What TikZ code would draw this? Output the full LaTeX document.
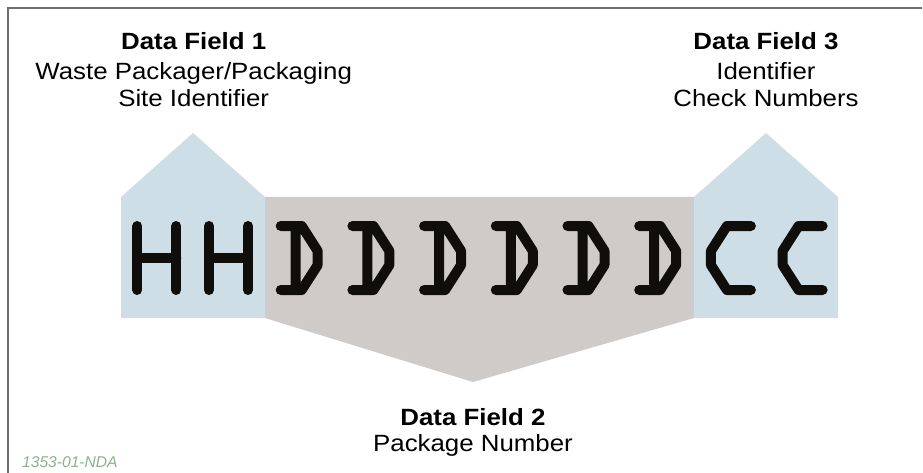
\documentclass[tikz,border=0pt]{standalone}
\usepackage{fontspec}
\setmainfont{Liberation Sans}
\definecolor{fieldblue}{RGB}{205,222,231}
\definecolor{fieldgray}{RGB}{207,203,200}
\definecolor{glyphink}{RGB}{16,14,11}
\definecolor{framegray}{RGB}{110,110,110}
\definecolor{tagGreen}{RGB}{140,178,140}
\tikzset{
  glyph/.style={draw=glyphink, line width=10pt, line cap=round, line join=round},
  titlebold/.style={anchor=base, inner sep=0pt, xscale=1.1, font=\fontsize{23.5}{27}\selectfont\bfseries},
  titleplain/.style={anchor=base, inner sep=0pt, xscale=1.1, font=\fontsize{23.5}{27}\selectfont},
  tagtext/.style={anchor=base west, inner sep=0pt, text=tagGreen, font=\fontsize{15.6}{18}\selectfont\itshape},
  glyphH/.pic={\draw[glyph] (0,0) -- (0,64) (39,0) -- (39,64) (0,32) -- (39,32);},
  glyphD/.pic={\draw[glyph] (0,0) -- (21,0) -- (37,25) -- (37,39) -- (21,64) -- (0,64) (15,0) -- (15,64);},
  glyphC/.pic={\draw[glyph] (40,0) -- (16,0) -- (0,25) -- (0,39) -- (16,64) -- (40,64);}
}
\begin{document}
\begin{tikzpicture}[x=1pt,y=-1pt]
\useasboundingbox (0,0) rectangle (923,473);
\fill[white] (0,0) rectangle (923,473);
% frame
\draw[framegray, line width=1.4pt] (922,8) -- (8,8) -- (8,473);
% field shapes
\fill[fieldgray] (265,197) -- (694,197) -- (694,318) -- (473,382) -- (265,318) -- cycle;
\fill[fieldblue] (121,318) -- (121,197) -- (193,133) -- (265,197) -- (265,318) -- cycle;
\fill[fieldblue] (694,318) -- (694,197) -- (766,133) -- (838,197) -- (838,318) -- cycle;
% glyphs
\foreach \L [count=\i from 0] in {H,H,D,D,D,D,D,D,C,C}
  \pic at ({137.3+71.7*\i},226) {glyph\L};
% titles
\node[titlebold]  (f1)  at (193.7,49.5)  {Data Field 1};
\node[titleplain] (f1a) at (193.7,79.8)  {Waste Packager/Packaging};
\node[titleplain] (f1b) at (193.7,106.8) {Site Identifier};
\node[titlebold]  (f3)  at (766,49.5)    {Data Field 3};
\node[titleplain] (f3a) at (766,79.8)    {Identifier};
\node[titleplain] (f3b) at (766,106.8)   {Check Numbers};
\node[titlebold]  (f2)  at (473,425.7)   {Data Field 2};
\node[titleplain] (f2a) at (473,451.7)   {Package Number};
\node[tagtext] (tag) at (22,467.7) {1353-01-NDA};
\end{tikzpicture}
\end{document}
